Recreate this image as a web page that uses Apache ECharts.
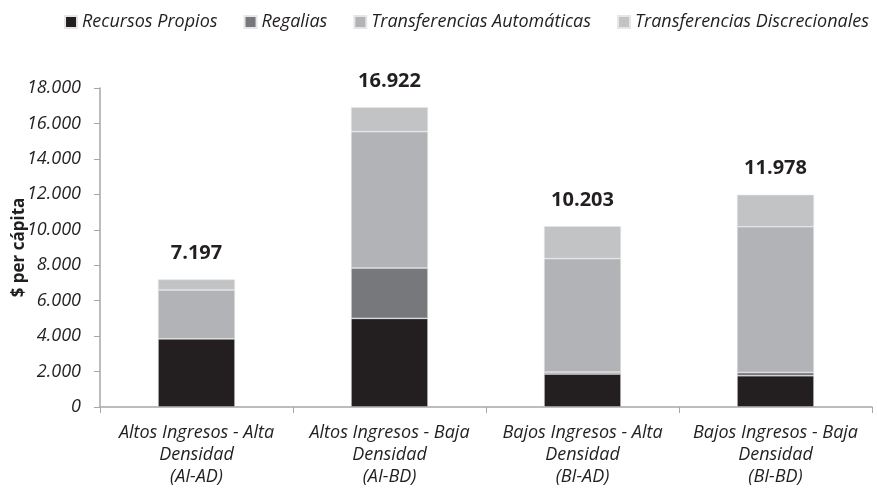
<!DOCTYPE html>
<html>
<head>
<meta charset="utf-8">
<script src="https://cdn.jsdelivr.net/npm/echarts@6/dist/echarts.min.js"></script>
<style>
  html, body { margin: 0; padding: 0; background: #fff; }
  #chart { width: 877px; height: 488px; }
</style>
</head>
<body>
<div id="chart"></div>
<script>
var categories = [
    'Altos Ingresos - Alta\nDensidad\n(AI-AD)',
    'Altos Ingresos - Baja\nDensidad\n(AI-BD)',
    'Bajos Ingresos - Alta\nDensidad\n(BI-AD)',
    'Bajos Ingresos - Baja\nDensidad\n(BI-BD)'
];
var recursosPropios = [3850, 5000, 1860, 1760];
var regalias = [0, 2840, 110, 190];
var transfAutomaticas = [2750, 7700, 6400, 8220];
var transfDiscrecionales = [597, 1382, 1833, 1808];
var totales = [7197, 16922, 10203, 11978];

var FONT = 'Open Sans';

function fmtMiles(v) {
    return String(v).replace(/\B(?=(\d{3})+(?!\d))/g, '.');
}

var chart = echarts.init(document.getElementById('chart'));

function serie(name, data, color) {
    return {
        name: name,
        type: 'bar',
        stack: 'total',
        barWidth: 77,
        data: data,
        itemStyle: { color: color, borderColor: '#e6e6e6', borderWidth: 0.6 }
    };
}

var series = [
    serie('Recursos Propios', recursosPropios, '#231f20'),
    serie('Regalias', regalias, '#77787b'),
    serie('Transferencias Automáticas', transfAutomaticas, '#b1b3b6'),
    serie('Transferencias Discrecionales', transfDiscrecionales, '#c2c3c5')
];

// etiqueta de total encima de cada barra
series[3].label = {
    show: true,
    position: 'top',
    distance: 16,
    fontFamily: FONT,
    fontWeight: 'bold',
    fontSize: 20,
    color: '#231f20',
    formatter: function (p) { return fmtMiles(totales[p.dataIndex]); }
};

chart.setOption({
    animation: false,
    textStyle: { fontFamily: FONT },
    legend: {
        top: 8,
        right: 3,
        itemWidth: 12,
        itemHeight: 12,
        itemGap: 26,
        icon: 'rect',
        textStyle: { fontFamily: FONT, fontStyle: 'italic', fontSize: 18, color: '#231f20' },
        data: series.map(function (s) { return s.name; })
    },
    grid: { left: 100, right: 5, top: 88, bottom: 81, outerBoundsMode: 'none' },
    xAxis: {
        type: 'category',
        data: categories,
        axisLine: { lineStyle: { color: '#a6a6a6', width: 1.5 } },
        axisTick: { show: true, length: 6, lineStyle: { color: '#a6a6a6' } },
        axisLabel: {
            interval: 0,
            margin: 15,
            fontFamily: FONT,
            fontStyle: 'italic',
            fontSize: 18,
            lineHeight: 22,
            color: '#231f20'
        }
    },
    yAxis: {
        type: 'value',
        min: 0,
        max: 18000,
        interval: 2000,
        name: '$ per cápita',
        nameLocation: 'middle',
        nameGap: 72,
        nameMoveOverlap: false,
        nameTextStyle: { fontFamily: FONT, fontWeight: 'bold', fontSize: 17, color: '#231f20' },
        axisLine: { show: true, lineStyle: { color: '#a6a6a6', width: 1.5 } },
        axisTick: { show: true, length: 6, lineStyle: { color: '#a6a6a6' } },
        splitLine: { show: false },
        axisLabel: {
            margin: 19,
            fontFamily: FONT,
            fontStyle: 'italic',
            fontSize: 18,
            color: '#231f20',
            formatter: fmtMiles
        }
    },
    series: series
});
</script>
</body>
</html>
